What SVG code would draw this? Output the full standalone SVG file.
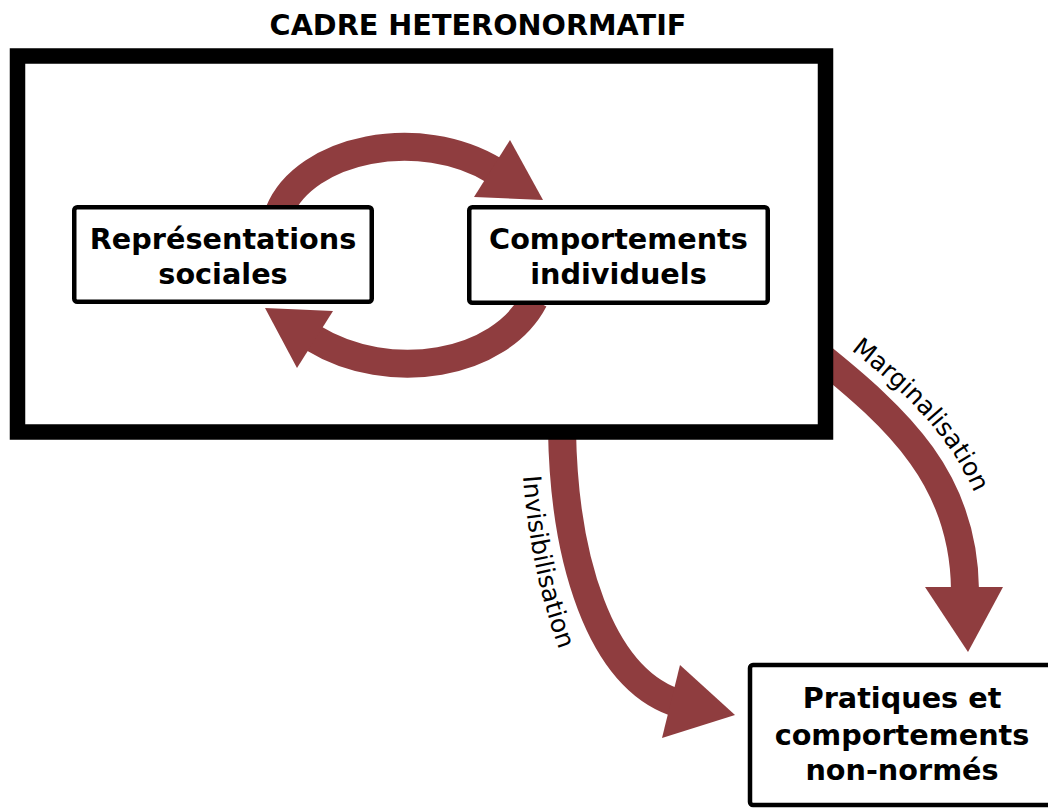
<svg xmlns="http://www.w3.org/2000/svg" width="1048" height="809" viewBox="0 0 1048 809">
<style>
.band{fill:none;stroke:#8f3d3f;stroke-width:28}
.head{fill:#8f3d3f}
.box{fill:#fff;stroke:#000;stroke-width:4.5}
.bt{font-family:"DejaVu Sans","Liberation Sans",sans-serif;font-weight:bold;font-size:28.7px;text-anchor:middle;fill:#000}
.lbl{font-family:"DejaVu Sans","Liberation Sans",sans-serif;font-size:25px;fill:#000}
</style>
<defs>
<path id="pInv" d="M523,476 Q530,570 560,652"/>
<path id="pMar" d="M851,350 C901,389 953,436 979,504"/>
<clipPath id="outside"><rect x="826" y="0" width="222" height="809"/></clipPath>
</defs>
<rect x="0" y="0" width="1048" height="809" fill="#fff"/>
<g id="connectors">
<path class="band" d="M279,212 C305,148 420,125 495,171"/>
<polygon class="head" points="543,200 510,140 474,197"/>
<path class="band" d="M534,300 C500,365 390,385 313,338"/>
<polygon class="head" points="265,308 333,311 297,368"/>
<path class="band" d="M562,430 C564,560 600,675 674,702"/>
<polygon class="head" points="735,715 680,665 662,738"/>
<path class="band" clip-path="url(#outside)" d="M815,352 C900,420 964,480 965,590"/>
<polygon class="head" points="968,652 925,587 1003,587"/>
<text class="lbl"><textPath href="#pInv">Invisibilisation</textPath></text>
<text class="lbl"><textPath href="#pMar">Marginalisation</textPath></text>
</g>
<g id="cadre">
<rect x="17.5" y="56" width="808" height="376" fill="none" stroke="#000" stroke-width="15.5"/>
<text class="bt" x="478" y="35">CADRE HETERONORMATIF</text>
</g>
<g id="representations">
<rect class="box" x="74.25" y="207.25" width="297.5" height="94.5" rx="3"/>
<text class="bt" x="223" y="249">Représentations</text>
<text class="bt" x="223" y="284">sociales</text>
</g>
<g id="comportements">
<rect class="box" x="469.25" y="207.25" width="298.5" height="95.5" rx="3"/>
<text class="bt" x="618.5" y="249">Comportements</text>
<text class="bt" x="618.5" y="284">individuels</text>
</g>
<g id="pratiques">
<rect class="box" x="750" y="665" width="306" height="140" rx="3"/>
<text class="bt" x="902" y="708">Pratiques et</text>
<text class="bt" x="902" y="745">comportements</text>
<text class="bt" x="902" y="780">non-normés</text>
</g>
</svg>
